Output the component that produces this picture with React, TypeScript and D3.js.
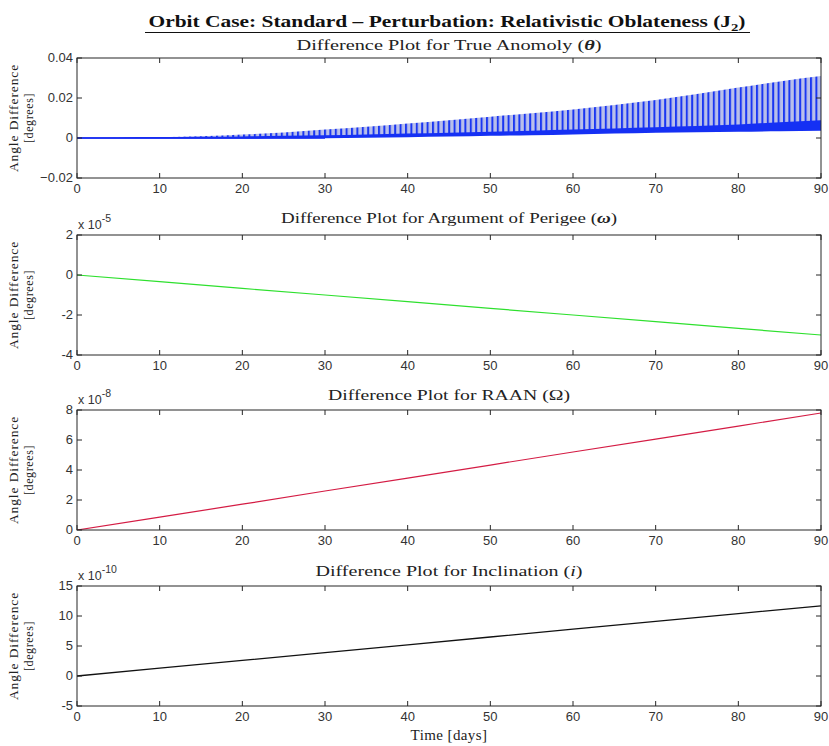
import React from 'react';
import * as d3 from 'd3';

// ---------- data ----------
const xTicks = [0, 10, 20, 30, 40, 50, 60, 70, 80, 90];

// True anomaly difference (degrees): envelope of the oscillation, sampled every 5 days
const thetaTimes = [0, 5, 10, 15, 20, 25, 30, 35, 40, 45, 50, 55, 60, 65, 70, 75, 80, 85, 90];
const thetaUpper = [0, 0.0001, 0.0004, 0.0009, 0.0017, 0.0028, 0.0042, 0.0056, 0.0072, 0.0089, 0.0106, 0.0124, 0.0143, 0.0165, 0.019, 0.022, 0.0252, 0.0283, 0.031];
const thetaDense = [0, 0, 0.00005, 0.0002, 0.0004, 0.0007, 0.001, 0.0014, 0.0018, 0.0022, 0.0027, 0.0032, 0.0038, 0.0044, 0.005, 0.0056, 0.0064, 0.0075, 0.0085];
const thetaLower = [0, 0, 0, 0, 0, 0.0001, 0.0003, 0.0005, 0.0008, 0.0011, 0.0015, 0.0018, 0.0022, 0.0026, 0.003, 0.0033, 0.0035, 0.0038, 0.004];
const thetaTicks = [-0.02, 0, 0.02, 0.04];

// Argument of perigee (x 1e-5 deg), every 10 days
const lineTimes = [0, 10, 20, 30, 40, 50, 60, 70, 80, 90];
const omegaValues = [0, -0.33, -0.67, -1.0, -1.33, -1.67, -2.0, -2.33, -2.67, -3.0];
const omegaTicks = [-4, -2, 0, 2];

// RAAN (x 1e-8 deg)
const raanValues = [0, 0.86, 1.72, 2.6, 3.46, 4.33, 5.2, 6.06, 6.93, 7.8];
const raanTicks = [0, 2, 4, 6, 8];

// Inclination (x 1e-10 deg)
const incValues = [0, 1.3, 2.6, 3.9, 5.2, 6.5, 7.8, 9.1, 10.4, 11.7];
const incTicks = [-5, 0, 5, 10, 15];

// ---------- layout ----------
const W = 829;
const H = 746;
const X0 = 77;
const X1 = 821;
const PH = 120;
const SERIF = "'Liberation Serif', 'DejaVu Serif', serif";
const SANS = "'Liberation Sans', Arial, sans-serif";
const AXIS = '#262626';
const TICKC = '#333333';

const x = d3.scaleLinear().domain([0, 90]).range([X0, X1]);

type PanelProps = {
  top: number;
  domain: [number, number];
  ticks: number[];
  fmt: (v: number) => string;
  exponent?: string;
  title: React.ReactNode;
  titleLen: number;
  titleY: number;
  children: (y: d3.ScaleLinear<number, number>) => React.ReactNode;
  id: string;
};

function Panel({ top, domain, ticks, fmt, exponent, title, titleLen, titleY, children, id }: PanelProps) {
  const bottom = top + PH;
  const y = d3.scaleLinear().domain(domain).range([bottom, top]);
  const midY = (top + bottom) / 2;
  const tl = 5;
  return (
    <g>
      <defs>
        <clipPath id={`clip-${id}`}>
          <rect x={X0} y={top} width={X1 - X0} height={PH} />
        </clipPath>
      </defs>
      <text x={(X0 + X1) / 2} y={titleY} textAnchor="middle" fontFamily={SERIF} fontSize={15} fill="#222"
        textLength={titleLen} lengthAdjust="spacingAndGlyphs">
        {title}
      </text>
      {exponent && (
        <text x={X0 + 1} y={top - 6} fontFamily={SANS} fontSize={12.5} fill={TICKC}>
          x 10<tspan dy={-7} fontSize={10.5}>{exponent}</tspan>
        </text>
      )}
      <g clipPath={`url(#clip-${id})`}>{children(y)}</g>
      <rect x={X0} y={top} width={X1 - X0} height={PH} fill="none" stroke={AXIS} strokeWidth={1} />
      {xTicks.map((t) => (
        <g key={`xt${t}`}>
          <line x1={x(t)} x2={x(t)} y1={bottom} y2={bottom - tl} stroke={AXIS} />
          <line x1={x(t)} x2={x(t)} y1={top} y2={top + tl} stroke={AXIS} />
          <text x={x(t)} y={bottom + 15} textAnchor="middle" fontFamily={SANS} fontSize={13} fill={TICKC}>{t}</text>
        </g>
      ))}
      {ticks.map((t) => (
        <g key={`yt${t}`}>
          <line x1={X0} x2={X0 + tl} y1={y(t)} y2={y(t)} stroke={AXIS} />
          <line x1={X1} x2={X1 - tl} y1={y(t)} y2={y(t)} stroke={AXIS} />
          <text x={X0 - 4} y={y(t) + 4} textAnchor="end" fontFamily={SANS} fontSize={13} fill={TICKC}>{fmt(t)}</text>
        </g>
      ))}
      <text transform={`translate(18,${midY}) rotate(-90)`} textAnchor="middle" fontFamily={SERIF} fontSize={13.5}
        fill="#222" letterSpacing={0.9}>Angle Difference</text>
      <text transform={`translate(33,${midY}) rotate(-90)`} textAnchor="middle" fontFamily={SERIF} fontSize={12}
        fill="#222" letterSpacing={0.6}>[degrees]</text>
    </g>
  );
}

const fmtTheta = (v: number) => (v === 0 ? '0' : d3.format('.2f')(v));
const fmtInt = (v: number) => String(v);

export default function App() {
  const curve = d3.curveMonotoneX;
  const upperArea = (y: d3.ScaleLinear<number, number>) =>
    d3.area<number>()
      .curve(curve)
      .x((_, i) => x(thetaTimes[i]))
      .y0((_, i) => y(thetaLower[i]))
      .y1((d) => y(d))(thetaUpper) || '';
  const denseArea = (y: d3.ScaleLinear<number, number>) =>
    d3.area<number>()
      .curve(curve)
      .x((_, i) => x(thetaTimes[i]))
      .y0((_, i) => y(thetaLower[i]) + 0.8)
      .y1((d) => y(d) - 0.8)(thetaDense) || '';
  const mkLine = (vals: number[], y: d3.ScaleLinear<number, number>) =>
    d3.line<number>().x((_, i) => x(lineTimes[i])).y((d) => y(d))(vals) || '';

  return (
    <svg width={W} height={H} style={{ position: 'absolute', left: 0, top: 0, background: '#fff' }}>
      <defs>
        <pattern id="spikes" patternUnits="userSpaceOnUse" width={5.4} height={10}>
          <rect x={0} y={0} width={5.4} height={10} fill="#b9bfea" />
          <rect x={0} y={0} width={2} height={10} fill="#1a36f2" />
        </pattern>
      </defs>
      <rect width={W} height={H} fill="#fff" />
      <text x={447} y={27} textAnchor="middle" fontFamily={SERIF} fontWeight="bold" fontSize={16} fill="#111"
        textLength={597} lengthAdjust="spacingAndGlyphs">
        Orbit Case: Standard – Perturbation: Relativistic Oblateness (J<tspan dy={4} fontSize={11}>2</tspan><tspan dy={-4}>)</tspan>
      </text>
      <line x1={145} x2={750} y1={32.5} y2={32.5} stroke="#111" strokeWidth={1.2} />

      <Panel id="p1" top={58} domain={[-0.02, 0.04]} ticks={thetaTicks} fmt={fmtTheta} titleY={50} titleLen={305}
        title={<>Difference Plot for True Anomoly (<tspan fontStyle="italic" fontWeight="bold">θ</tspan>)</>}>
        {(y) => (
          <g>
            <path d={upperArea(y)} fill="url(#spikes)" />
            <path d={denseArea(y)} fill="#1530f4" />
            <line x1={x(0)} x2={x(30)} y1={y(0)} y2={y(0)} stroke="#1a2cf0" strokeWidth={1.3} />
          </g>
        )}
      </Panel>

      <Panel id="p2" top={235} domain={[-4, 2]} ticks={omegaTicks} fmt={fmtInt} exponent="-5" titleY={223} titleLen={336}
        title={<>Difference Plot for Argument of Perigee (<tspan fontStyle="italic" fontWeight="bold">ω</tspan>)</>}>
        {(y) => <path d={mkLine(omegaValues, y)} fill="none" stroke="#2ee02e" strokeWidth={1.2} />}
      </Panel>

      <Panel id="p3" top={410} domain={[0, 8]} ticks={raanTicks} fmt={fmtInt} exponent="-8" titleY={400} titleLen={242}
        title={<>Difference Plot for RAAN (Ω)</>}>
        {(y) => <path d={mkLine(raanValues, y)} fill="none" stroke="#d41c44" strokeWidth={1.2} />}
      </Panel>

      <Panel id="p4" top={586} domain={[-5, 15]} ticks={incTicks} fmt={fmtInt} exponent="-10" titleY={576} titleLen={267}
        title={<>Difference Plot for Inclination (<tspan fontStyle="italic">i</tspan>)</>}>
        {(y) => <path d={mkLine(incValues, y)} fill="none" stroke="#111" strokeWidth={1.3} />}
      </Panel>

      <text x={449} y={740} textAnchor="middle" fontFamily={SERIF} fontSize={15} fill="#222" letterSpacing={0.4}>
        Time [days]
      </text>
    </svg>
  );
}
